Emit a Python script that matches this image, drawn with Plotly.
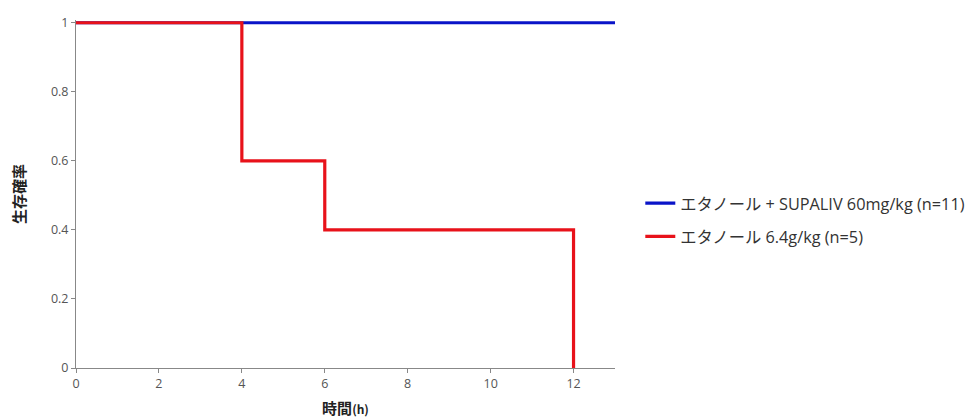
import plotly.graph_objects as go

# Data
blue_name = "エタノール + SUPALIV 60mg/kg (n=11)"
blue_x = [0, 13]
blue_y = [1, 1]

red_name = "エタノール 6.4g/kg (n=5)"
red_x = [0, 4, 6, 12]
red_y = [1, 0.6, 0.4, 0]

x_ticks = [0, 2, 4, 6, 8, 10, 12]
y_ticks = [0, 0.2, 0.4, 0.6, 0.8, 1]

fig = go.Figure()
fig.add_trace(go.Scatter(x=blue_x, y=blue_y, mode="lines", name=blue_name, legendgroup="a",
                         line=dict(color="#0A14C8", width=3.2, shape="hv")))
fig.add_trace(go.Scatter(x=red_x, y=red_y, mode="lines", name=red_name, legendgroup="b",
                         line=dict(color="#E8121A", width=3.2, shape="hv")))

fig.update_layout(
    width=973, height=420,
    margin=dict(l=68, r=365, t=12, b=60),
    paper_bgcolor="white", plot_bgcolor="white",
    font=dict(family="Open Sans, Noto Sans CJK JP", size=12, color="#555555"),
    legend=dict(x=1.045, xanchor="left", y=0.425, yanchor="middle",
                font=dict(size=16.3, color="#333333", family="Open Sans, Noto Sans CJK JP"),
                bgcolor="rgba(0,0,0,0)", tracegroupgap=9),
    showlegend=True,
)
fig.update_xaxes(range=[0, 13], tickvals=x_ticks, ticktext=[str(v) for v in x_ticks],
                 showgrid=False, zeroline=False, showline=True, linecolor="#888888",
                 linewidth=1, ticks="outside", ticklen=4, tickcolor="#888888", automargin=False,
                 tickfont=dict(size=12.5, color="#555555"),
                 title=dict(text="<b>時間<span style='font-size:12px'>(h)</span></b>", standoff=12,
                            font=dict(family="Noto Sans CJK JP", size=15, color="#222222")))
fig.update_yaxes(range=[0, 1.008], tickvals=y_ticks, ticktext=["0", "0.2", "0.4", "0.6", "0.8", "1"],
                 showgrid=False, zeroline=False, showline=True, linecolor="#888888",
                 linewidth=1, ticks="outside", ticklen=4, tickcolor="#888888", automargin=False,
                 tickfont=dict(size=12.5, color="#555555"),
                 title=dict(text="<b>生存確率</b>", standoff=22,
                            font=dict(family="Noto Sans CJK JP", size=15, color="#222222")))

fig.write_html("out.html")
